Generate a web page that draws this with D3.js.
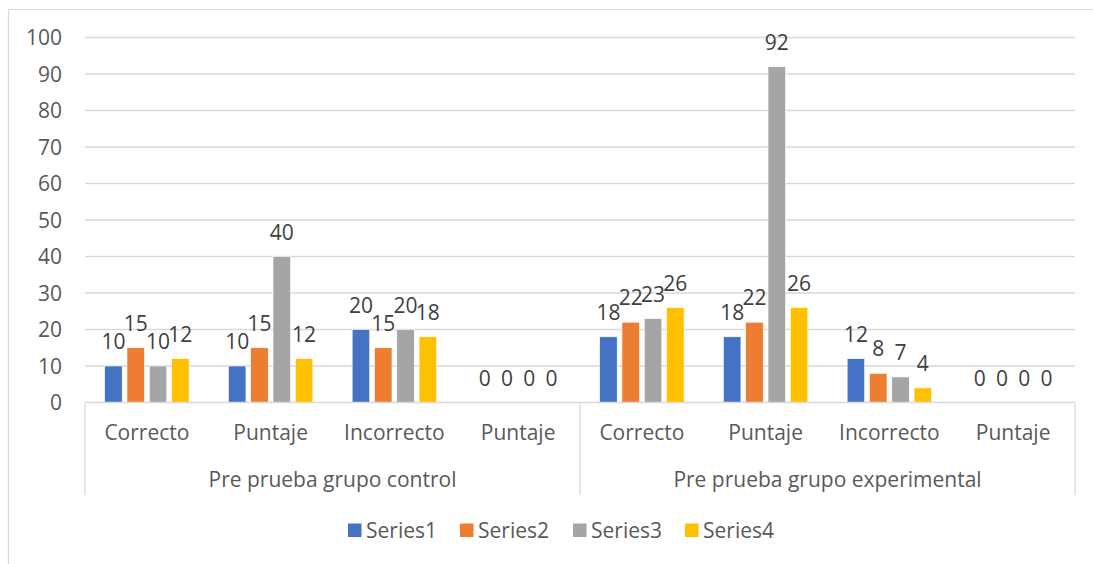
<!DOCTYPE html>
<html>
<head>
<meta charset="utf-8">
<script src="https://cdn.jsdelivr.net/npm/d3@7"></script>
<style>
  html, body { margin: 0; padding: 0; background: #fff; }
  svg { display: block; }
  text { font-family: "Open Sans", "Liberation Sans", sans-serif; }
</style>
</head>
<body>
<svg id="chart" width="1093" height="564"></svg>
<script>
const categories = ["Correcto", "Puntaje", "Incorrecto", "Puntaje", "Correcto", "Puntaje", "Incorrecto", "Puntaje"];
const groups = ["Pre prueba grupo control", "Pre prueba grupo experimental"];
const seriesNames = ["Series1", "Series2", "Series3", "Series4"];
const series1 = [10, 10, 20, 0, 18, 18, 12, 0];
const series2 = [15, 15, 15, 0, 22, 22, 8, 0];
const series3 = [10, 40, 20, 0, 23, 92, 7, 0];
const series4 = [12, 12, 18, 0, 26, 26, 4, 0];
const yTicks = [0, 10, 20, 30, 40, 50, 60, 70, 80, 90, 100];
const colors = ["#4472C4", "#ED7D31", "#A5A5A5", "#FFC000"];

const seriesValues = [series1, series2, series3, series4];

const svg = d3.select("#chart");
const plotL = 85, plotR = 1075, plotT = 37.5, plotB = 402.5;
const fs = 21;

// outer chart border (top and left visible)
svg.append("line").attr("x1", 8.5).attr("x2", 1093).attr("y1", 9.5).attr("y2", 9.5)
  .attr("stroke", "#d9d9d9").attr("stroke-width", 1.2);
svg.append("line").attr("x1", 8.5).attr("x2", 8.5).attr("y1", 9.5).attr("y2", 564)
  .attr("stroke", "#d9d9d9").attr("stroke-width", 1.2);

const y = d3.scaleLinear().domain([0, 100]).range([plotB, plotT]);
const idx = categories.map((c, i) => i);
const x0 = d3.scaleBand().domain(idx).range([plotL, plotR]).paddingInner(0).paddingOuter(0);
const x1 = d3.scaleBand().domain(seriesNames).range([0, x0.bandwidth()])
  .paddingInner(0.215).paddingOuter(0.882);

// gridlines
svg.append("g").selectAll("line").data(yTicks.filter(d => d > 0)).join("line")
  .attr("x1", plotL).attr("x2", plotR)
  .attr("y1", d => y(d)).attr("y2", d => y(d))
  .attr("stroke", "#d9d9d9").attr("stroke-width", 1.3);

// y tick labels
svg.append("g").selectAll("text").data(yTicks).join("text")
  .attr("x", 62).attr("y", d => y(d)).attr("dy", "0.36em")
  .attr("text-anchor", "end").attr("font-size", fs).attr("fill", "#595959")
  .text(d => d);

// bars
const gBars = svg.append("g");
seriesNames.forEach((s, si) => {
  gBars.append("g").selectAll("rect").data(seriesValues[si]).join("rect")
    .attr("x", (d, i) => x0(i) + x1(s))
    .attr("width", x1.bandwidth())
    .attr("y", d => y(d))
    .attr("height", d => y(0) - y(d))
    .attr("fill", colors[si])
    .attr("stroke", "#fff").attr("stroke-width", 0.6);
});

// data labels
seriesNames.forEach((s, si) => {
  svg.append("g").selectAll("text").data(seriesValues[si]).join("text")
    .attr("x", (d, i) => x0(i) + x1(s) + x1.bandwidth() / 2)
    .attr("y", d => y(d) - 17)
    .attr("text-anchor", "middle").attr("font-size", fs).attr("fill", "#404040")
    .text(d => d);
});

// x axis line
svg.append("line").attr("x1", plotL).attr("x2", plotR).attr("y1", plotB).attr("y2", plotB)
  .attr("stroke", "#d9d9d9").attr("stroke-width", 1.3);

// group separators
const nPer = categories.length / groups.length;
const sepX = [plotL, x0(nPer), plotR];
svg.append("g").selectAll("line").data(sepX).join("line")
  .attr("x1", d => d).attr("x2", d => d).attr("y1", plotB).attr("y2", 495)
  .attr("stroke", "#d9d9d9").attr("stroke-width", 1.3);

// category labels
svg.append("g").selectAll("text").data(categories).join("text")
  .attr("x", (d, i) => x0(i) + x0.bandwidth() / 2).attr("y", 440)
  .attr("text-anchor", "middle").attr("font-size", fs).attr("fill", "#595959")
  .text(d => d);

// group labels
svg.append("g").selectAll("text").data(groups).join("text")
  .attr("x", (d, i) => (sepX[i] + sepX[i + 1]) / 2).attr("y", 487)
  .attr("text-anchor", "middle").attr("font-size", fs).attr("fill", "#595959")
  .text(d => d);

// legend
const legend = svg.append("g");
const legX = [348, 460, 573, 685];
seriesNames.forEach((s, si) => {
  legend.append("rect").attr("x", legX[si]).attr("y", 523.5).attr("width", 13.5).attr("height", 13.5)
    .attr("fill", colors[si]);
  legend.append("text").attr("x", legX[si] + 18).attr("y", 538)
    .attr("font-size", fs).attr("fill", "#595959").text(s);
});
</script>
</body>
</html>
